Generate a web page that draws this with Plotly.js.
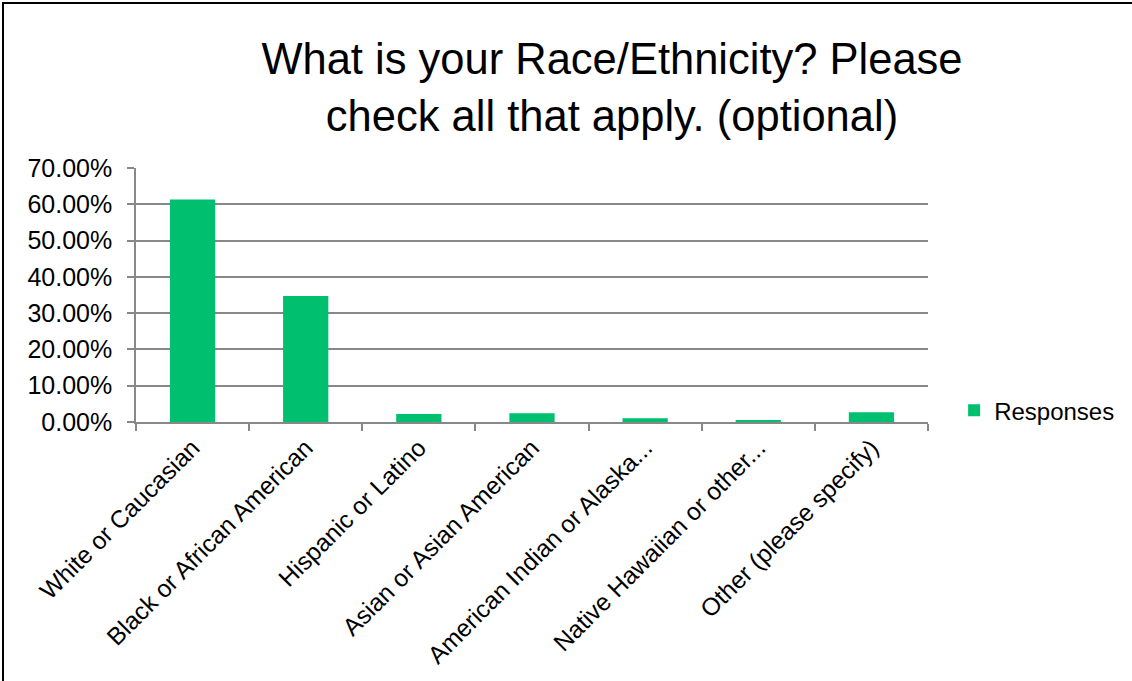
<!DOCTYPE html>
<html>
<head>
<meta charset="utf-8">
<script src="https://cdn.plot.ly/plotly-3.0.1.min.js"></script>
<style>
html,body{margin:0;padding:0;background:#fff;overflow:hidden;}
#chart{width:1132px;height:681px;}
#frame{position:absolute;left:2px;top:2px;width:2000px;height:2000px;border:2px solid #000;pointer-events:none;}
</style>
</head>
<body>
<div id="chart"></div>
<div id="frame"></div>
<script>
const categories = [
  "White or Caucasian",
  "Black or African American",
  "Hispanic or Latino",
  "Asian or Asian American",
  "American Indian or Alaska...",
  "Native Hawaiian or other...",
  "Other (please specify)"
];
const responses = [0.613, 0.347, 0.022, 0.024, 0.010, 0.003, 0.027];
const seriesName = "Responses";
const titleText = "What is your Race/Ethnicity? Please<br>check all that apply. (optional)";

const FONT = '"Liberation Sans", Arial, sans-serif';
const GRAY = '#888888';

const trace = {
  type: 'bar',
  x: categories,
  y: responses,
  name: seriesName,
  marker: {color: '#00BF6F'},
  showlegend: true,
  hoverinfo: 'x+y'
};

const layout = {
  width: 1132,
  height: 681,
  paper_bgcolor: '#fff',
  plot_bgcolor: '#fff',
  font: {family: FONT, color: '#000', size: 24},
  title: {
    text: titleText,
    font: {family: FONT, size: 43.5, color: '#000'},
    x: 612/1132,
    xanchor: 'center',
    xref: 'container',
    y: 1 - 74/681,
    yanchor: 'top',
    yref: 'container'
  },
  margin: {l: 136, r: 202, t: 168, b: 259, pad: 0},
  bargap: 0.6,
  showlegend: true,
  legend: {
    x: 1.033,
    xanchor: 'left',
    y: 0.045,
    yanchor: 'middle',
    font: {family: FONT, size: 24, color: '#000'},
    bgcolor: 'rgba(0,0,0,0)'
  },
  xaxis: {
    type: 'category',
    tickangle: -45,
    tickson: 'boundaries',
    ticks: 'outside',
    ticklen: 7,
    tickcolor: GRAY,
    tickwidth: 1.5,
    showline: true,
    linecolor: GRAY,
    linewidth: 1.5,
    showgrid: false,
    tickfont: {family: FONT, size: 24.5, color: '#000'},
    automargin: false
  },
  yaxis: {
    range: [0, 0.7],
    dtick: 0.1,
    tick0: 0,
    tickformat: '.2%',
    ticks: 'outside',
    ticklen: 7,
    tickcolor: GRAY,
    tickwidth: 1.5,
    ticklabelstandoff: 10,
    showline: true,
    linecolor: GRAY,
    linewidth: 1.5,
    showgrid: true,
    gridcolor: GRAY,
    gridwidth: 1.5,
    zeroline: false,
    tickfont: {family: FONT, size: 25, color: '#000'},
    automargin: false
  }
};

Plotly.newPlot('chart', [trace], layout, {displayModeBar: false, responsive: false});
</script>
</body>
</html>
